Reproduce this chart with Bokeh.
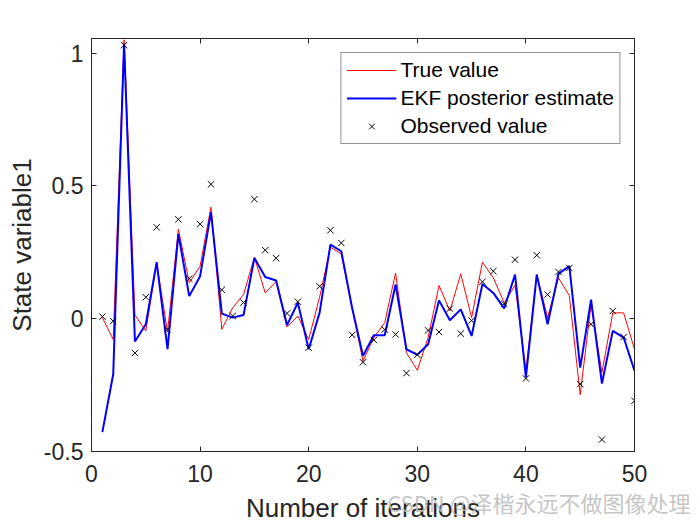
from bokeh.plotting import figure
from bokeh.models import Range1d, LinearAxis, Legend, LegendItem, FixedTicker, Label
from bokeh.embed import file_html
from bokeh.resources import INLINE

iterations = list(range(1, 51))
true_value = [0.004, -0.078, 1.05, 0.014, -0.046, 0.21, -0.05, 0.337, 0.135, 0.198,
              0.42, -0.04, 0.041, 0.091, 0.231, 0.097, 0.14, -0.031, 0.01, -0.078,
              0.08, 0.269, 0.244, 0.04, -0.159, -0.071, -0.015, 0.172, -0.128, -0.194,
              -0.071, 0.125, 0.029, 0.169, 0.004, 0.213, 0.154, 0.06, 0.126, -0.196,
              0.166, 0.004, 0.154, 0.087, -0.286, 0.054, -0.203, 0.022, 0.022, -0.115]
ekf_estimate = [-0.427, -0.209, 1.035, -0.086, -0.021, 0.213, -0.115, 0.319, 0.085, 0.16,
                0.401, 0.019, 0.004, 0.014, 0.229, 0.157, 0.144, -0.024, 0.06, -0.115,
                0.022, 0.279, 0.254, 0.04, -0.14, -0.062, -0.062, 0.129, -0.115, -0.136,
                -0.096, 0.069, -0.006, 0.035, -0.065, 0.131, 0.097, 0.039, 0.166, -0.221,
                0.166, -0.021, 0.169, 0.198, -0.184, 0.072, -0.244, -0.046, -0.071, -0.196]
observed = [0.008, -0.009, 1.03, -0.129, 0.081, 0.344, -0.04, 0.374, 0.151, 0.356,
            0.506, 0.109, 0.01, 0.061, 0.45, 0.258, 0.228, 0.02, 0.064, -0.109,
            0.122, 0.333, 0.285, -0.061, -0.164, -0.08, -0.041, -0.059, -0.205, -0.136,
            -0.044, -0.05, 0.038, -0.056, -0.007, 0.139, 0.179, 0.056, 0.222, -0.225,
            0.239, 0.091, 0.176, 0.191, -0.246, -0.021, -0.455, 0.029, -0.069, -0.309]
x_ticks = [0, 10, 20, 30, 40, 50]
y_ticks = [-0.5, 0, 0.5, 1]
y_tick_labels = {-0.5: "-0.5", 0: "0", 0.5: "0.5", 1: "1"}

AX = "#262626"
FONT = "Liberation Sans"

p = figure(width=700, height=525, output_backend="svg", toolbar_location=None,
           x_range=Range1d(0, 50), y_range=Range1d(-0.5, 1.055),
           min_border_left=91, min_border_right=66, min_border_top=38, min_border_bottom=71)
p.grid.visible = False
p.outline_line_color = AX
p.outline_line_width = 1
p.background_fill_color = "white"
p.border_fill_color = "white"

r_true = p.line(iterations, true_value, line_color="#ff0000", line_width=1)
r_ekf = p.line(iterations, ekf_estimate, line_color="#0000ff", line_width=2)
r_obs = p.scatter(iterations, observed, marker="x", size=9, line_color="black", line_width=1)

def style_axis(ax, show_labels):
    ax.axis_line_color = AX
    ax.major_tick_line_color = AX
    ax.minor_tick_line_color = None
    ax.major_tick_in = 5
    ax.major_tick_out = 0
    ax.major_label_text_font = FONT
    ax.major_label_text_font_size = "23px"
    ax.major_label_text_color = AX
    ax.axis_label_text_font = FONT
    ax.axis_label_text_font_size = "26px"
    ax.axis_label_text_font_style = "normal"
    ax.axis_label_text_color = AX
    if not show_labels:
        ax.major_label_text_alpha = 0
        ax.major_label_text_font_size = "0px"
        ax.major_label_standoff = 0

p.xaxis.ticker = FixedTicker(ticks=x_ticks)
p.yaxis.ticker = FixedTicker(ticks=y_ticks)
p.yaxis.major_label_overrides = y_tick_labels
p.xaxis.axis_label = "Number of iterations"
p.yaxis.axis_label = "State variable1"
style_axis(p.xaxis[0], True)
style_axis(p.yaxis[0], True)
p.xaxis.major_label_standoff = 13
p.yaxis.major_label_standoff = 8
p.xaxis.axis_label_standoff = 8
p.yaxis.axis_label_standoff = 4

top_ax = LinearAxis(ticker=FixedTicker(ticks=x_ticks))
right_ax = LinearAxis(ticker=FixedTicker(ticks=y_ticks))
style_axis(top_ax, False)
style_axis(right_ax, False)
p.add_layout(top_ax, "above")
p.add_layout(right_ax, "right")

legend = Legend(items=[LegendItem(label="True value", renderers=[r_true]),
                       LegendItem(label="EKF posterior estimate", renderers=[r_ekf]),
                       LegendItem(label="Observed value", renderers=[r_obs])],
                location="top_right", margin=14, padding=5, spacing=4,
                glyph_width=50, glyph_height=20, label_height=20, label_standoff=4,
                label_text_font=FONT, label_text_font_size="21px", label_text_color="black",
                border_line_color=AX, border_line_width=1, background_fill_color="white",
                background_fill_alpha=1)
p.add_layout(legend, "center")

wm = Label(x=690, y=517, x_units="canvas", y_units="canvas", text="CSDN @泽楷永远不做图像处理",
           text_font="Noto Sans CJK SC", text_font_size="22px", text_color="#bbbbbb",
           text_alpha=0.85, text_align="right", text_baseline="bottom", level="overlay")
p.add_layout(wm, "above")

open("out.html", "w").write(file_html(p, INLINE))
